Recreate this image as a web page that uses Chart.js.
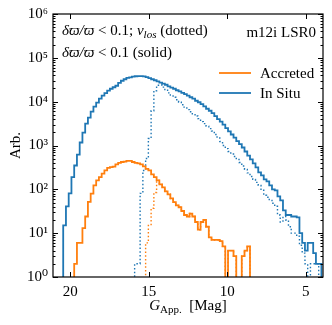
<!DOCTYPE html>
<html>
<head>
<meta charset="utf-8">
<script src="https://cdn.jsdelivr.net/npm/chart.js@4/dist/chart.umd.min.js"></script>
<style>
html,body{margin:0;padding:0;background:#fff;}
canvas{display:block;}
</style>
</head>
<body>
<canvas id="c" width="332" height="325"></canvas>
<script>
// Bin edges of the G_App. histogram (magnitudes), low to high
const magEdges = [4.000,4.175,4.350,4.525,4.700,4.875,5.050,5.225,5.400,5.575,
  5.750,5.925,6.100,6.275,6.450,6.625,6.800,6.975,7.150,7.325,
  7.500,7.675,7.850,8.025,8.200,8.375,8.550,8.725,8.900,9.075,
  9.250,9.425,9.600,9.775,9.950,10.125,10.300,10.475,10.650,10.825,
  11.000,11.175,11.350,11.525,11.700,11.875,12.050,12.225,12.400,12.575,
  12.750,12.925,13.100,13.275,13.450,13.625,13.800,13.975,14.150,14.325,
  14.500,14.675,14.850,15.025,15.200,15.375,15.550,15.725,15.900,16.075,
  16.250,16.425,16.600,16.775,16.950,17.125,17.300,17.475,17.650,17.825,
  18.000,18.175,18.350,18.525,18.700,18.875,19.050,19.225,19.400,19.575,
  19.750,19.925,20.100,20.275,20.450];

// In Situ, parallax cut only (solid)
const inSitu = [2,2,3.5,6,6,4,6,10,23,24,
  24,26,26,33,56,69,95,100,123,152,
  169,208,243,316,390,480,590,730,900,1080,
  1260,1520,1780,2100,2500,3000,3500,4000,4700,5500,
  6200,6900,7800,8800,9700,10500,11700,12600,13700,14800,
  15900,17100,18200,19700,20800,22400,24300,25700,27300,29100,
  30800,32500,34600,36300,37800,38400,38400,38000,37400,36000,
  34800,32500,30000,26900,23100,21300,19700,17800,15600,13700,
  11700,9500,7700,5900,4330,3160,1970,1170,620,350,
  190,81,41,15];

// In Situ, parallax cut + v_los (dotted)
const inSituVlos = [0,2,2,2,0,2,3.5,5.3,8.5,10,
  10,14,20,24,18,26,41,48,56,66,
  73,95,123,144,169,197,237,285,340,410,
  480,560,640,730,850,1000,1230,1480,1780,2140,
  2430,2760,3160,3500,4100,4700,5300,5900,6600,7500,
  8500,9700,11100,12600,14100,15900,18200,21500,24000,23600,
  17800,6200,1440,505,270,81,2,2,0,0,
  0,0,0,0,0,0,0,0,0,0,
  0,0,0,0,0,0,0,0,0,0,
  0,0,0,0];

// Accreted, parallax cut only (solid)
const accreted = [0,0,0,0,0,0,0,0,0,0,
  0,0,0,0,0,0,0,0,0,0,
  0,0,0,0,0,0,5,4,3,0,
  0,3,4,4,0,5,6.6,7,7,7,
  8,14,20,18,12,18,24,28,24,26,
  32,39,43,51,62,77,90,111,130,160,
  190,220,270,292,333,370,390,400,420,445,
  445,430,420,400,370,330,320,310,270,228,
  190,160,123,80,52,24,13,6,6,2,
  0,0,0,0];

// Accreted, parallax cut + v_los (dotted)
const accretedVlos = [0,0,0,0,0,0,0,0,0,0,
  0,0,0,0,0,0,0,0,0,0,
  0,0,0,0,0,0,5,4,3,0,
  0,3,4,4,0,5,6.6,7,7,7,
  8,14,20,18,12,18,24,28,24,26,
  32,39,43,51,62,77,90,111,130,160,
  85,37,15,6,0,0,0,0,0,0,
  0,0,0,0,0,0,0,0,0,0,
  0,0,0,0,0,0,0,0,0,0,
  0,0,0,0];

const xTicks = [20, 15, 10, 5];
const yTicks = [1, 10, 100, 1000, 10000, 100000, 1000000];
const yTickLabels = ['10\u2070','10\u00B9','10\u00B2','10\u00B3','10\u2074','10\u2075','10\u2076'];

const ORANGE = '#ff7f0e';
const BLUE = '#1f77b4';
const FONT = "'Liberation Serif', 'DejaVu Serif', serif";
const FLOOR = 0.01;

function stepPoints(counts) {
  const n = counts.length;
  const pts = [{x: magEdges[0], y: FLOOR}];
  counts.forEach((c, i) => pts.push({x: magEdges[i], y: c > 0 ? c : FLOOR}));
  pts.push({x: magEdges[n], y: counts[n-1] > 0 ? counts[n-1] : FLOOR});
  pts.push({x: magEdges[n], y: FLOOR});
  return pts;
}

function ds(label, counts, color, dotted) {
  return {
    label, data: stepPoints(counts), borderColor: color, backgroundColor: color,
    borderWidth: dotted ? 1.4 : 1.8, borderDash: dotted ? [1.5, 2.2] : [],
    stepped: 'before', pointRadius: 0, tension: 0, fill: false, clip: 0,
    borderCapStyle: 'butt', borderJoinStyle: 'miter'
  };
}

const decor = {
  id: 'decor',
  afterDatasetsDraw(chart) {
    const {ctx, chartArea: a, scales} = chart;
    const xs = scales.x, ys = scales.y;
    ctx.save();
    ctx.strokeStyle = '#000';
    ctx.lineWidth = 1;
    // inward ticks
    ctx.beginPath();
    xTicks.forEach(v => {
      const px = Math.round(xs.getPixelForValue(v)) + 0.5;
      ctx.moveTo(px, a.bottom); ctx.lineTo(px, a.bottom - 5);
      ctx.moveTo(px, a.top); ctx.lineTo(px, a.top + 5);
    });
    yTicks.forEach(v => {
      const py = Math.round(ys.getPixelForValue(v)) + 0.5;
      ctx.moveTo(a.left, py); ctx.lineTo(a.left + 5, py);
      ctx.moveTo(a.right, py); ctx.lineTo(a.right - 5, py);
    });
    for (let e = 0; e < 6; e++) {
      for (let k = 2; k < 10; k++) {
        const py = Math.round(ys.getPixelForValue(k * Math.pow(10, e))) + 0.5;
        ctx.moveTo(a.left, py); ctx.lineTo(a.left + 2.5, py);
        ctx.moveTo(a.right, py); ctx.lineTo(a.right - 2.5, py);
      }
    }
    ctx.stroke();
    // frame
    ctx.lineWidth = 1.2;
    ctx.strokeRect(a.left, a.top, a.right - a.left, a.bottom - a.top);
    ctx.restore();
  },
  afterDraw(chart) {
    const {ctx, chartArea: a} = chart;
    ctx.save();
    ctx.fillStyle = '#000';
    ctx.textBaseline = 'alphabetic';
    const seg = (parts, x, y) => {
      parts.forEach(p => {
        ctx.font = p[1];
        ctx.fillText(p[0], x, y + (p[2] || 0));
        x += ctx.measureText(p[0]).width;
      });
      return x;
    };
    const width = parts => parts.reduce((s, p) => { ctx.font = p[1]; return s + ctx.measureText(p[0]).width; }, 0);
    const R = '15px ' + FONT, I = 'italic 15px ' + FONT, Is = 'italic 11px ' + FONT, Rs = '11px ' + FONT;
    // annotation lines
    ctx.textAlign = 'left';
    seg([['\u03B4\u03D6/\u03D6', I], [' < 0.1; ', R], ['v', I], ['los', Is, 3], [' (dotted)', R]], 62, 35);
    seg([['\u03B4\u03D6/\u03D6', I], [' < 0.1 (solid)', R]], 62, 57);
    ctx.font = R;
    ctx.textAlign = 'right';
    ctx.fillText('m12i LSR0', 316, 37);
    // legend
    ctx.textAlign = 'left';
    ctx.lineWidth = 1.8;
    ctx.strokeStyle = ORANGE;
    ctx.beginPath(); ctx.moveTo(219, 73); ctx.lineTo(251, 73); ctx.stroke();
    ctx.strokeStyle = BLUE;
    ctx.beginPath(); ctx.moveTo(219, 93); ctx.lineTo(251, 93); ctx.stroke();
    ctx.font = R;
    ctx.fillText('Accreted', 260, 78);
    ctx.fillText('In Situ', 260, 98);
    // x axis title
    const xt = [['G', I], ['App.', Rs, 3], ['  [Mag]', R]];
    const cx = (a.left + a.right) / 2;
    seg(xt, cx - width(xt) / 2, 310);
    // y axis title
    ctx.save();
    ctx.translate(20, (a.top + a.bottom) / 2);
    ctx.rotate(-Math.PI / 2);
    ctx.font = R;
    ctx.textAlign = 'center';
    ctx.fillText('Arb.', 0, 0);
    ctx.restore();
    ctx.restore();
  }
};

new Chart(document.getElementById('c').getContext('2d'), {
  type: 'line',
  data: {
    datasets: [
      ds('Accreted', accreted, ORANGE, false),
      ds('In Situ', inSitu, BLUE, false),
      ds('Accreted (v_los)', accretedVlos, ORANGE, true),
      ds('In Situ (v_los)', inSituVlos, BLUE, true)
    ]
  },
  options: {
    responsive: false,
    animation: false,
    events: [],
    layout: { padding: { top: 13, right: 9, left: 0, bottom: 0 } },
    plugins: { legend: { display: false }, tooltip: { enabled: false } },
    scales: {
      x: {
        type: 'linear', min: 3.9, max: 21.1, reverse: true,
        afterFit: s => { s.height = 48; },
        afterBuildTicks: s => { s.ticks = xTicks.map(v => ({value: v})); },
        grid: { display: false, drawTicks: false },
        border: { display: false },
        ticks: { padding: 6, color: '#000', maxRotation: 0, autoSkip: false,
                 font: { family: FONT, size: 15 }, callback: v => String(v) }
      },
      y: {
        type: 'logarithmic', min: 1, max: 1000000,
        afterFit: s => { s.width = 53; },
        afterBuildTicks: s => { s.ticks = yTicks.map(v => ({value: v})); },
        grid: { display: false, drawTicks: false },
        border: { display: false },
        ticks: { padding: 5, color: '#000', autoSkip: false,
                 font: { family: FONT, size: 15 },
                 callback: v => { const i = yTicks.indexOf(v); return i >= 0 ? yTickLabels[i] : ''; } }
      }
    }
  },
  plugins: [decor]
});
</script>
</body>
</html>
